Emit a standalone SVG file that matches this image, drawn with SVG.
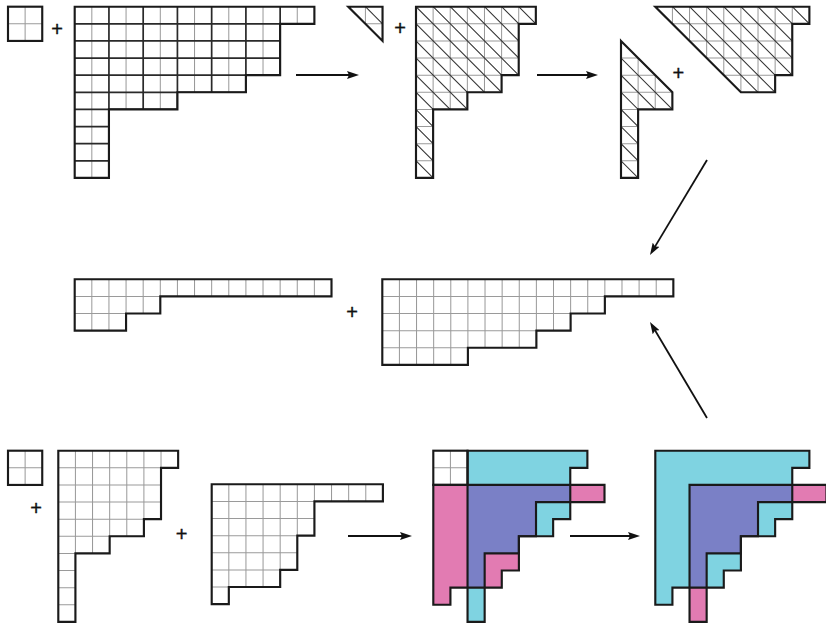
<svg xmlns="http://www.w3.org/2000/svg" width="826" height="624" viewBox="0 0 826 624">
<style>
.o{fill:none;stroke:#1a1a1a;stroke-width:0.125;stroke-linejoin:miter}
.g{fill:none;stroke:#9a9a9a;stroke-width:0.06}
.d{fill:none;stroke:#2a2a2a;stroke-width:0.1}
.t{fill:none;stroke:#333;stroke-width:0.06}
.w{fill:#fff}
.cy{fill:#7fd3e1}
.pk{fill:#e27bb2}
.pu{fill:#7a80c6}
.arr{fill:none;stroke:#111;stroke-width:1.8;marker-end:url(#ah)}
.plus{font-family:"Liberation Sans",Arial,sans-serif;font-size:20px;fill:#111;stroke:#111;stroke-width:0.4;text-anchor:middle}
</style>
<defs>
<marker id="ah" markerUnits="userSpaceOnUse" viewBox="0 0 12 8" refX="4" refY="4" markerWidth="12" markerHeight="8" orient="auto">
<path d="M0,0 L12,4 L0,8 L2,4 z" fill="#111"/>
</marker>
<clipPath id="c-s1"><polygon points="0,0 14,0 14,1 12,1 12,4 10,4 10,5 6,5 6,6 2,6 2,10 0,10"/></clipPath>
<clipPath id="c-tri"><polygon points="0,0 2,0 2,2"/></clipPath>
<clipPath id="c-st"><polygon points="0,0 7,0 7,1 6,1 6,4 5,4 5,5 3,5 3,6 1,6 1,10 0,10"/></clipPath>
<clipPath id="c-s4"><polygon points="0,2 3,5 3,6 1,6 1,10 0,10"/></clipPath>
<clipPath id="c-s5"><polygon points="0,0 9,0 9,1 8,1 8,4 7,4 7,5 5,5"/></clipPath>
<clipPath id="c-m1"><polygon points="0,0 15,0 15,1 5,1 5,2 3,2 3,3 0,3"/></clipPath>
<clipPath id="c-m2"><polygon points="0,0 17,0 17,1 13,1 13,2 11,2 11,3 9,3 9,4 5,4 5,5 0,5"/></clipPath>
<clipPath id="c-b2"><polygon points="0,0 10,0 10,1 6,1 6,3 5,3 5,5 4,5 4,6 1,6 1,7 0,7"/></clipPath>
</defs>
<rect width="826" height="624" fill="#fff"/>

<!-- Top row -->
<g id="sq1" transform="translate(8,6.7) scale(17.12)">
<path class="g" d="M1,0V2M0,1H2"/>
<rect class="o" x="0" y="0" width="2" height="2"/>
</g>
<g id="dominoes" transform="translate(74.7,6.7) scale(17.12)">
<g clip-path="url(#c-s1)">
<path class="g" d="M1,0V10M3,0V10M5,0V10M7,0V10M9,0V10M11,0V10M13,0V10"/>
<path class="d" d="M0,1H14M0,2H14M0,3H14M0,4H14M0,5H14M0,6H14M0,7H14M0,8H14M0,9H14M2,0V10M4,0V10M6,0V10M8,0V10M10,0V10M12,0V10"/>
</g>
<polygon class="o" points="0,0 14,0 14,1 12,1 12,4 10,4 10,5 6,5 6,6 2,6 2,10 0,10"/>
</g>
<g id="tri" transform="translate(348.3,6.7) scale(17.12)">
<g clip-path="url(#c-tri)">
<path class="g" d="M1,0V2M0,1H2"/>
</g>
<path class="t" d="M1,0L2,1"/>
<polygon class="o" points="0,0 2,0 2,2"/>
</g>
<g id="halved" transform="translate(416,6.7) scale(17.12)">
<g clip-path="url(#c-st)">
<path class="g" d="M0,1H7M0,2H7M0,3H7M0,4H7M0,5H7M0,6H7M0,7H7M0,8H7M0,9H7M1,0V10M2,0V10M3,0V10M4,0V10M5,0V10M6,0V10"/>
<path class="t" d="M-9,0L1,10M-8,0L2,10M-7,0L3,10M-6,0L4,10M-5,0L5,10M-4,0L6,10M-3,0L7,10M-2,0L8,10M-1,0L9,10M0,0L10,10M1,0L11,10M2,0L12,10M3,0L13,10M4,0L14,10M5,0L15,10M6,0L16,10"/>
</g>
<polygon class="o" points="0,0 7,0 7,1 6,1 6,4 5,4 5,5 3,5 3,6 1,6 1,10 0,10"/>
</g>
<g id="piece-left" transform="translate(621,6.7) scale(17.12)">
<g clip-path="url(#c-s4)">
<path class="g" d="M0,3H3M0,4H3M0,5H3M0,6H3M0,7H3M0,8H3M0,9H3M1,0V10M2,0V10"/>
<path class="t" d="M0,3L7,10M0,4L6,10M0,5L5,10M0,6L4,10M0,7L3,10M0,8L2,10M0,9L1,10"/>
</g>
<polygon class="o" points="0,2 3,5 3,6 1,6 1,10 0,10"/>
</g>
<g id="piece-right" transform="translate(655.3,6.7) scale(17.12)">
<g clip-path="url(#c-s5)">
<path class="g" d="M0,1H9M0,2H9M0,3H9M0,4H9M1,0V5M2,0V5M3,0V5M4,0V5M5,0V5M6,0V5M7,0V5M8,0V5"/>
<path class="t" d="M1,0L6,5M2,0L7,5M3,0L8,5M4,0L9,5M5,0L10,5M6,0L11,5M7,0L12,5M8,0L13,5"/>
</g>
<polygon class="o" points="0,0 9,0 9,1 8,1 8,4 7,4 7,5 5,5"/>
</g>

<!-- Middle row -->
<g id="mid-left" transform="translate(74.7,279.3) scale(17.12)">
<g clip-path="url(#c-m1)">
<path class="g" d="M0,1H15M0,2H15M1,0V3M2,0V3M3,0V3M4,0V3M5,0V3M6,0V3M7,0V3M8,0V3M9,0V3M10,0V3M11,0V3M12,0V3M13,0V3M14,0V3"/>
</g>
<polygon class="o" points="0,0 15,0 15,1 5,1 5,2 3,2 3,3 0,3"/>
</g>
<g id="mid-right" transform="translate(382.3,279.3) scale(17.12)">
<g clip-path="url(#c-m2)">
<path class="g" d="M0,1H17M0,2H17M0,3H17M0,4H17M1,0V5M2,0V5M3,0V5M4,0V5M5,0V5M6,0V5M7,0V5M8,0V5M9,0V5M10,0V5M11,0V5M12,0V5M13,0V5M14,0V5M15,0V5M16,0V5"/>
</g>
<polygon class="o" points="0,0 17,0 17,1 13,1 13,2 11,2 11,3 9,3 9,4 5,4 5,5 0,5"/>
</g>

<!-- Bottom row -->
<g id="sq2" transform="translate(8,450.7) scale(17.12)">
<path class="g" d="M1,0V2M0,1H2"/>
<rect class="o" x="0" y="0" width="2" height="2"/>
</g>
<g id="stair-a" transform="translate(58.3,450.7) scale(17.12)">
<g clip-path="url(#c-st)">
<path class="g" d="M0,1H7M0,2H7M0,3H7M0,4H7M0,5H7M0,6H7M0,7H7M0,8H7M0,9H7M1,0V10M2,0V10M3,0V10M4,0V10M5,0V10M6,0V10"/>
</g>
<polygon class="o" points="0,0 7,0 7,1 6,1 6,4 5,4 5,5 3,5 3,6 1,6 1,10 0,10"/>
</g>
<g id="stair-b" transform="translate(211.7,484.3) scale(17.12)">
<g clip-path="url(#c-b2)">
<path class="g" d="M0,1H10M0,2H10M0,3H10M0,4H10M0,5H10M0,6H10M1,0V7M2,0V7M3,0V7M4,0V7M5,0V7M6,0V7M7,0V7M8,0V7M9,0V7"/>
</g>
<polygon class="o" points="0,0 10,0 10,1 6,1 6,3 5,3 5,5 4,5 4,6 1,6 1,7 0,7"/>
</g>
<g id="colored-1" transform="translate(433.3,450.7) scale(17.12)">
<rect class="w" x="0" y="0" width="2" height="2"/>
<path class="g" d="M1,0V2M0,1H2"/>
<polygon class="cy" points="2,0 9,0 9,1 8,1 8,4 7,4 7,5 5,5 5,6 3,6 3,10 2,10"/>
<polygon class="pk" points="0,2 10,2 10,3 6,3 6,5 5,5 5,7 4,7 4,8 1,8 1,9 0,9"/>
<polygon class="pu" points="2,2 8,2 8,3 6,3 6,5 5,5 5,6 3,6 3,8 2,8"/>
<rect class="o" x="0" y="0" width="2" height="2"/>
<polygon class="o" points="2,0 9,0 9,1 8,1 8,4 7,4 7,5 5,5 5,6 3,6 3,10 2,10"/>
<polygon class="o" points="0,2 10,2 10,3 6,3 6,5 5,5 5,7 4,7 4,8 1,8 1,9 0,9"/>
</g>
<g id="colored-2" transform="translate(655.3,450.7) scale(17.12)">
<polygon class="cy" points="0,0 9,0 9,1 8,1 8,4 7,4 7,5 5,5 5,7 4,7 4,8 1,8 1,9 0,9"/>
<polygon class="pk" points="2,2 10,2 10,3 6,3 6,5 5,5 5,6 3,6 3,10 2,10"/>
<polygon class="pu" points="2,2 8,2 8,3 6,3 6,5 5,5 5,6 3,6 3,8 2,8"/>
<polygon class="o" points="0,0 9,0 9,1 8,1 8,4 7,4 7,5 5,5 5,7 4,7 4,8 1,8 1,9 0,9"/>
<polygon class="o" points="2,2 10,2 10,3 6,3 6,5 5,5 5,6 3,6 3,10 2,10"/>
</g>

<g id="plus-signs">
<text class="plus" x="57" y="36">+</text>
<text class="plus" x="400" y="35.3">+</text>
<text class="plus" x="678.3" y="80.3">+</text>
<text class="plus" x="352" y="318.7">+</text>
<text class="plus" x="36" y="515.3">+</text>
<text class="plus" x="181.7" y="541.3">+</text>
</g>

<g id="connectors">
<line class="arr" x1="296" y1="75" x2="351" y2="75"/>
<line class="arr" x1="537" y1="75" x2="590" y2="75"/>
<line class="arr" x1="707" y1="160" x2="654.1" y2="248.1"/>
<line class="arr" x1="707" y1="418" x2="654.1" y2="328.8"/>
<line class="arr" x1="348" y1="536" x2="404" y2="536"/>
<line class="arr" x1="570" y1="536" x2="632" y2="536"/>
</g>
</svg>
